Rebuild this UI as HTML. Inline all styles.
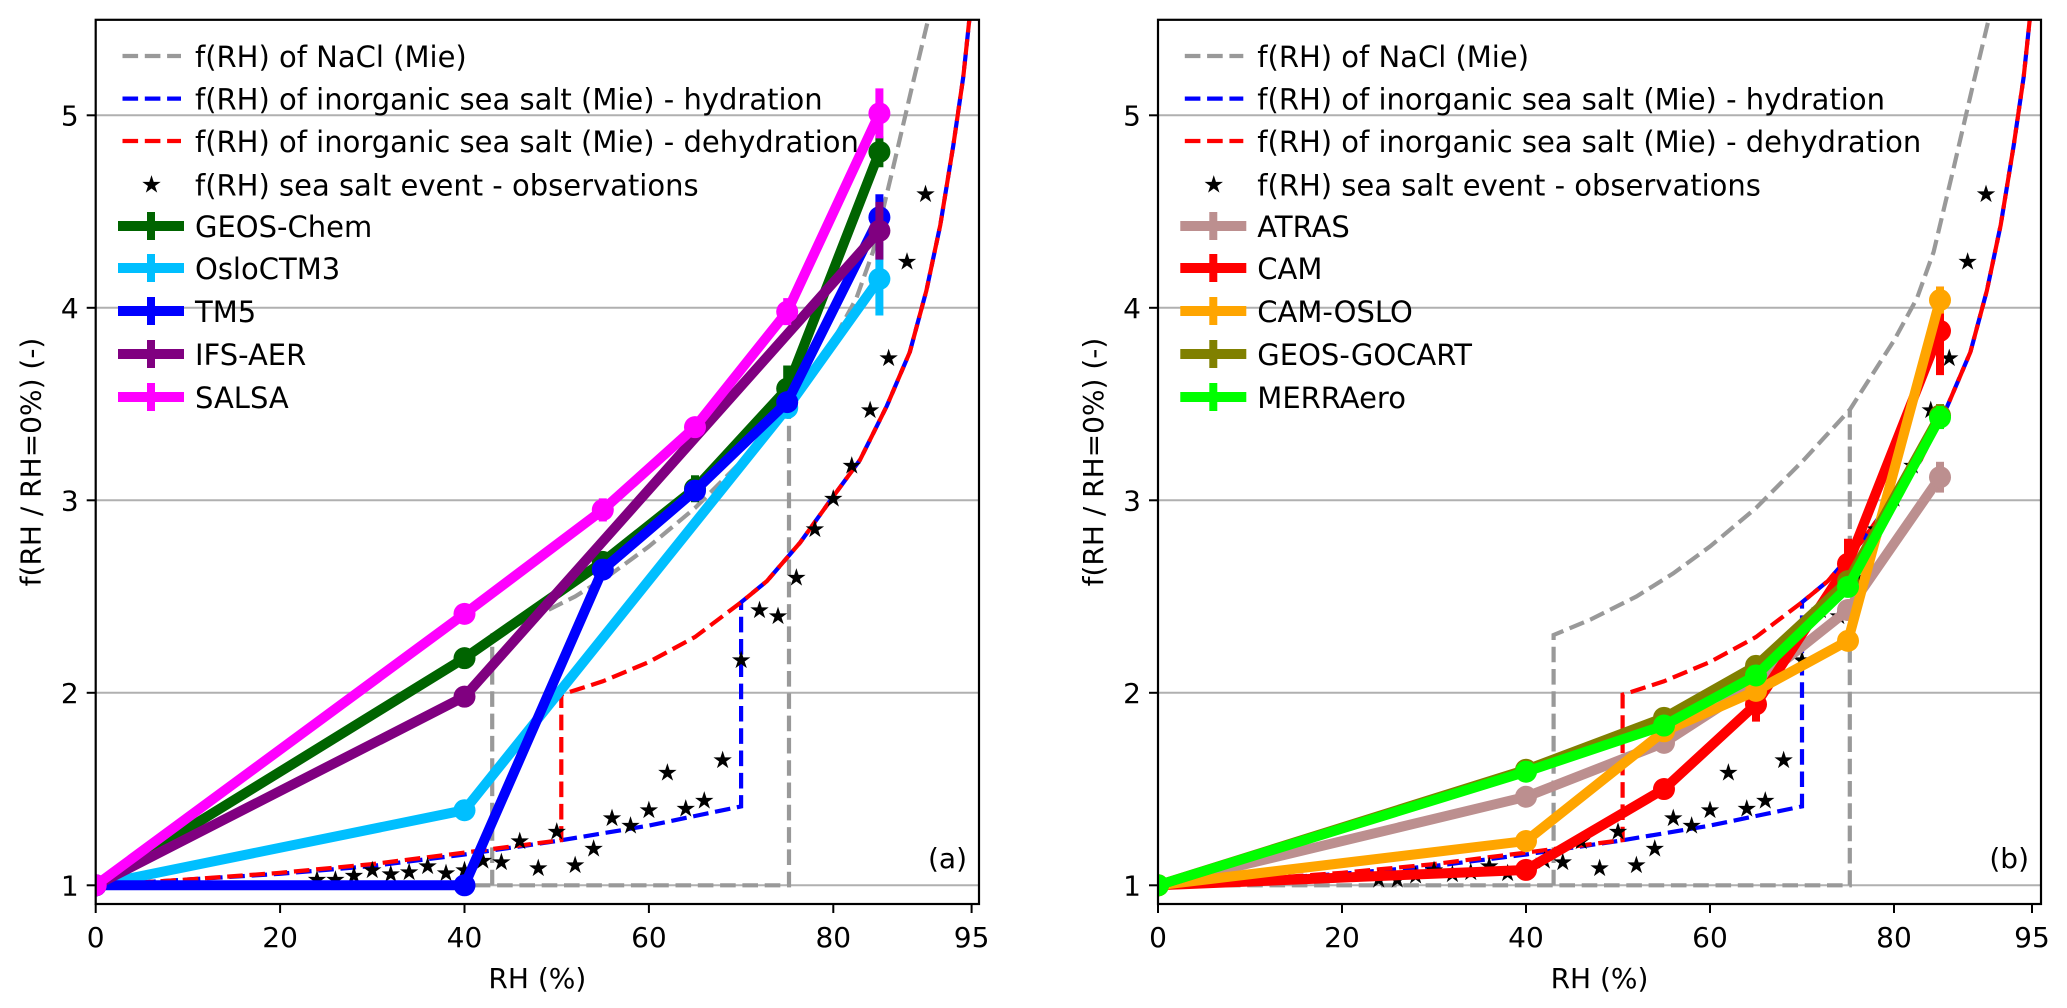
<!DOCTYPE html>
<html><head><meta charset="utf-8">
<style>
html,body{margin:0;padding:0;background:#fff;}
svg{display:block;font-family:"DejaVu Sans","Liberation Sans",sans-serif;}
</style></head>
<body>
<svg id="chart" width="2067" height="1008" viewBox="0 0 2067 1008" xmlns="http://www.w3.org/2000/svg"></svg>
<script>
// ---- data ----
const xTicks = [0,20,40,60,80,95];
const yTicks = [1,2,3,4,5];
const modelRH = [0,40,55,65,75,85];
// observations
const obsRH = [24,26,28,30,32,34,36,38,40,42,44,46,48,50,52,54,56,58,60,62,64,66,68,70,72,74,76,78,80,82,84,86,88,90];
const obsVal = [1.03,1.03,1.05,1.08,1.06,1.07,1.10,1.065,1.08,1.13,1.12,1.23,1.09,1.28,1.105,1.19,1.35,1.31,1.39,1.585,1.40,1.44,1.65,2.17,2.43,2.40,2.60,2.85,3.01,3.18,3.47,3.74,4.24,4.59];
// NaCl Mie
const naclHydRH = [0,75.2,75.2];
const naclHydVal = [1,1,3.47];
const naclRH = [43,43,47,52,56,60,65,70.2,75.2,80,82.5,84.3,86.5,88.7,90.3,91];
const naclVal = [1,2.30,2.38,2.50,2.62,2.76,2.96,3.21,3.47,3.83,4.05,4.29,4.73,5.18,5.50,5.7];
// sea salt Mie
const hydRH = [0,10,20,30,40,50,55,60,65,70,70,72.8,76.4,80,82.9,85.8,88.3,90.1,91.6,93,94.1,94.8,95.3];
const hydVal = [1,1.03,1.06,1.10,1.16,1.23,1.27,1.31,1.36,1.41,2.47,2.58,2.78,3.02,3.21,3.49,3.77,4.09,4.43,4.84,5.20,5.52,5.8];
const dehRH = [95.3,94.8,94.1,93,91.6,90.1,88.3,85.8,82.9,80,76.4,72.8,70,65,60,55,50.5,50.5,40,30,20,10,0];
const dehVal = [5.8,5.52,5.20,4.84,4.43,4.09,3.77,3.49,3.21,3.02,2.78,2.58,2.47,2.29,2.16,2.06,1.99,1.235,1.17,1.11,1.065,1.03,1.0];
// panel a models
const geosChemVal = [1,2.18,2.68,3.06,3.58,4.81];
const geosChemErr = [0,0.02,0.04,0.07,0.12,0.08];
const osloVal = [1,1.39,null,null,3.48,4.15];
const osloErr = [0,0.02,0,0,0.04,0.19];
const tm5Val = [1,1.0,2.64,3.05,3.51,4.47];
const tm5Err = [0,0.01,0.03,0.04,0.05,0.12];
const ifsVal = [1,1.98,null,null,null,4.40];
const ifsErr = [0,0.02,0,0,0,0.15];
const salsaVal = [1,2.41,2.95,3.38,3.98,5.01];
const salsaErr = [0,0.04,0.06,0.05,0.07,0.13];
// panel b models
const atrasVal = [1,1.46,1.74,2.05,2.43,3.12];
const atrasErr = [0,0.02,0.03,0.04,0.05,0.08];
const camVal = [1,1.08,1.50,1.94,2.67,3.88];
const camErr = [0,0.02,0.03,0.09,0.13,0.23];
const camOsloVal = [1,1.23,1.80,2.01,2.27,4.04];
const camOsloErr = [0,0.02,0.03,0.03,0.04,0.07];
const gocartVal = [1,1.60,1.87,2.14,2.58,3.44];
const gocartErr = [0,0.02,0.03,0.04,0.05,0.06];
const merraVal = [1,1.59,1.83,2.09,2.55,3.43];
const merraErr = [0,0.02,0.03,0.04,0.05,0.06];

const NS = "http://www.w3.org/2000/svg";
const svg = document.getElementById('chart');
function el(tag, attrs, parent){ const e=document.createElementNS(NS,tag); for(const k in attrs) e.setAttribute(k,attrs[k]); (parent||svg).appendChild(e); return e; }

const FS = 28, LFS = 29;
const panels = [
  {id:'a', x0:95.7, xs:9.22, right:979, label:'(a)',
   models:[['GEOS-Chem','#006400',geosChemVal,geosChemErr],['OsloCTM3','#00bfff',osloVal,osloErr],['TM5','#0000ff',tm5Val,tm5Err],['IFS-AER','#800080',ifsVal,ifsErr],['SALSA','#ff00ff',salsaVal,salsaErr]]},
  {id:'b', x0:1158, xs:9.2, right:2041, label:'(b)',
   models:[['ATRAS','#bc8f8f',atrasVal,atrasErr],['CAM','#ff0000',camVal,camErr],['CAM-OSLO','#ffa500',camOsloVal,camOsloErr],['GEOS-GOCART','#808000',gocartVal,gocartErr],['MERRAero','#00ff00',merraVal,merraErr]]}
];
const TOP=19.8, BOT=904;
function yv(v){ return 885.3-192.5*(v-1); }

panels.forEach(p=>{
  const xv = r => p.x0 + p.xs*r;
  const g = el('g',{});
  
  
  const cp = el('clipPath',{id:'clip'+p.id}, g);
  el('rect',{x:p.x0,y:TOP,width:p.right-p.x0,height:BOT-TOP},cp);
  yTicks.forEach(t=>{
    const l=el('line',{x1:p.x0,x2:p.right,y1:yv(t),y2:yv(t),stroke:'#b0b0b0','stroke-width':2},g);
    
    
  });
  const plot = el('g',{'clip-path':'url(#clip'+p.id+')'},g);
  const pts=(xs,ys)=>xs.map((x,i)=>xv(x).toFixed(1)+','+yv(ys[i]).toFixed(1)).join(' ');
  const dash={fill:'none','stroke-width':4.2,'stroke-dasharray':'15.6 6.7'};
  let e;
  e=el('polyline',Object.assign({points:pts(naclHydRH,naclHydVal),stroke:'#999999'},dash),plot);
   
  e=el('polyline',Object.assign({points:pts(naclRH,naclVal),stroke:'#999999'},dash),plot);
   
  e=el('polyline',Object.assign({points:pts(hydRH,hydVal),stroke:'#0000ff'},dash),plot);
   
  e=el('polyline',Object.assign({points:pts(dehRH,dehVal),stroke:'#ff0000','stroke-dashoffset':11},dash),plot);
   
  obsRH.forEach((r,i)=>{
    const s=el('text',{x:xv(r),y:yv(obsVal[i])+8,'text-anchor':'middle','font-size':24,fill:'#000'},plot);
    s.textContent='★';
    
    
  });
  p.models.forEach(m=>{
    const [name,col,vals,errs]=m;
    const mg=el('g',{},plot);
    
    
    const xs=[],ys=[];
    vals.forEach((v,i)=>{ if(v!==null){xs.push(modelRH[i]);ys.push(v);} });
    el('polyline',{points:pts(xs,ys),fill:'none',stroke:col,'stroke-width':10,'stroke-linejoin':'miter'},mg);
    vals.forEach((v,i)=>{
      if(v===null) return;
      if(errs[i]>0){
        el('line',{x1:xv(modelRH[i]),x2:xv(modelRH[i]),y1:yv(v-errs[i]),y2:yv(v+errs[i]),stroke:col,'stroke-width':8},mg);
      }
      const c=el('circle',{cx:xv(modelRH[i]),cy:yv(v),r:11,fill:col},mg);
      
      
    });
  });
  el('rect',{x:p.x0,y:TOP,width:p.right-p.x0,height:BOT-TOP,fill:'none',stroke:'#000','stroke-width':2.2},g);
  xTicks.forEach(t=>{
    el('line',{x1:xv(t),x2:xv(t),y1:BOT,y2:BOT+9,stroke:'#000','stroke-width':2},g);
    const tx=el('text',{x:xv(t),y:947,'text-anchor':'middle','font-size':FS,fill:'#000'},g);
    tx.textContent=t;
    
    
  });
  yTicks.forEach(t=>{
    el('line',{x1:p.x0-9,x2:p.x0,y1:yv(t),y2:yv(t),stroke:'#000','stroke-width':2},g);
    const tx=el('text',{x:p.x0-17,y:yv(t)+10,'text-anchor':'end','font-size':FS,fill:'#000'},g);
    tx.textContent=t;
    
    
  });
  const xl=el('text',{x:(p.x0+p.right)/2,y:988,'text-anchor':'middle','font-size':FS,fill:'#000'},g);
  xl.textContent='RH (%)';
  
  
  const ylx=p.x0-55;
  const yl=el('text',{x:ylx,y:462,'text-anchor':'middle','font-size':FS,fill:'#000',transform:'rotate(-90 '+ylx+' 462)'},g);
  yl.textContent='f(RH / RH=0%) (-)';
  
  
  const pl=el('text',{x:p.right-12,y:868,'text-anchor':'end','font-size':FS,fill:'#000'},g);
  pl.textContent=p.label;
  
  
  const off=p.x0-95.7;
  const lg=el('g',{},g);
  
  
  const rows=[56,98.6,141,184.4,226,268,311,354,397];
  const entries=[['f(RH) of NaCl (Mie)','dash','#999999'],['f(RH) of inorganic sea salt (Mie) - hydration','dash','#0000ff'],['f(RH) of inorganic sea salt (Mie) - dehydration','dash','#ff0000'],['f(RH) sea salt event - observations','star','#000']].concat(p.models.map(m=>[m[0],'model',m[1]]));
  entries.forEach((en,i)=>{
    const y=rows[i];
    const eg=el('g',{},lg);
    
    
    if(en[1]==='dash'){
      el('line',{x1:122.5+off,x2:181+off,y1:y,y2:y,stroke:en[2],'stroke-width':4.2,'stroke-dasharray':'15.6 6.7'},eg);
    } else if(en[1]==='star'){
      const s=el('text',{x:151.5+off,y:y+8,'text-anchor':'middle','font-size':24},eg); s.textContent='★';
    } else {
      el('line',{x1:118+off,x2:184+off,y1:y,y2:y,stroke:en[2],'stroke-width':10},eg);
      el('line',{x1:151+off,x2:151+off,y1:y-14,y2:y+14,stroke:en[2],'stroke-width':8},eg);
    }
    const t=el('text',{x:195+off,y:y+11,'font-size':LFS,fill:'#000'},eg);
    t.textContent=en[0];
  });
});
</script>
</body></html>
